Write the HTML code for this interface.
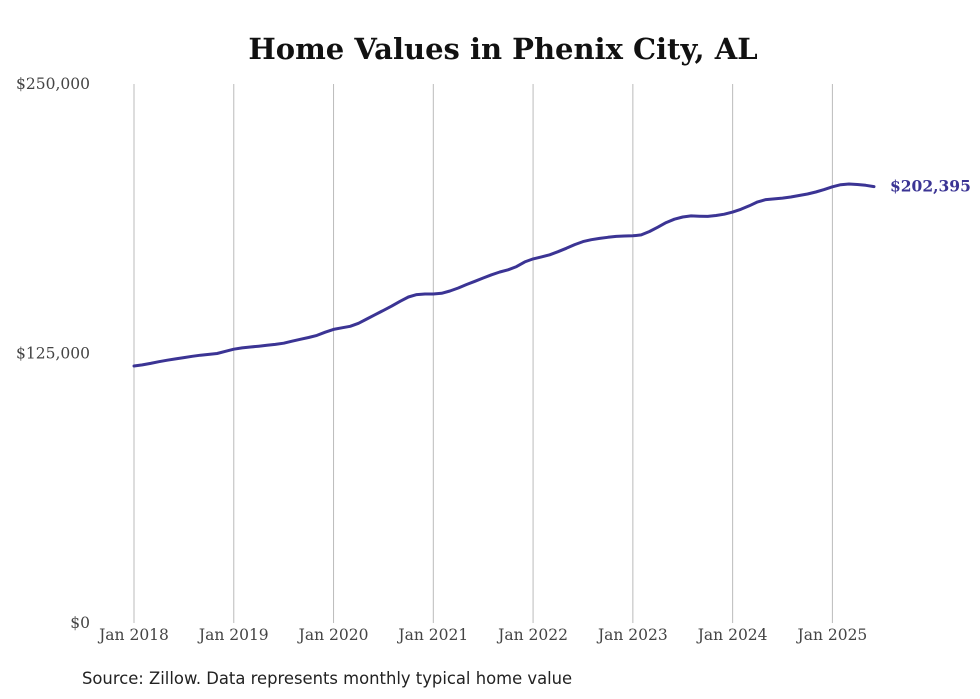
<!DOCTYPE html>
<html><head><meta charset="utf-8"><style>
body{margin:0;background:#fff;}
svg{display:block;}
</style></head><body>
<svg id="chart" width="980" height="699" xmlns="http://www.w3.org/2000/svg">
<text x="503" y="59" text-anchor="middle" font-family="DejaVu Serif, serif" font-weight="bold" font-size="29" fill="#111">Home Values in Phenix City, AL</text>
<g id="grid"></g><g id="yticks"></g><g id="xticks"></g><g id="series"></g>
<text x="82" y="684" font-family="DejaVu Sans, sans-serif" font-size="16.4" fill="#222">Source: Zillow. Data represents monthly typical home value</text>
</svg>
<script>
const xLabels=["Jan 2018","Jan 2019","Jan 2020","Jan 2021","Jan 2022","Jan 2023","Jan 2024","Jan 2025"];
const yTickValues=[0,125000,250000];
const yTickLabels=["$0","$125,000","$250,000"];
const values=[
119.2,119.7,120.4,121.2,121.9,122.5,123.1,123.7,124.2,124.6,125.0,126.0,
127.0,127.6,128.0,128.4,128.8,129.2,129.8,130.7,131.6,132.4,133.4,134.9,
136.2,136.9,137.6,139.0,141.0,143.0,145.0,147.0,149.2,151.2,152.3,152.6,
152.6,152.9,154.0,155.4,157.0,158.5,160.0,161.5,162.8,163.8,165.3,167.5,
168.9,169.8,170.8,172.2,173.8,175.5,176.9,177.8,178.4,178.9,179.3,179.5,
179.6,180.0,181.6,183.6,185.7,187.3,188.3,188.8,188.7,188.6,189.0,189.6,
190.6,191.9,193.5,195.3,196.4,196.7,197.1,197.6,198.3,199.0,199.9,201.0,
202.3,203.3,203.6,203.4,203.0,202.395];
const lastLabel="$202,395";
const NS="http://www.w3.org/2000/svg";
const x=m=>134+m*(698.4/84);
const y=v=>623-v/250000*539;
function mk(t,a,p){const e=document.createElementNS(NS,t);for(const k in a)e.setAttribute(k,a[k]);p.appendChild(e);return e;}
const grid=document.getElementById('grid'),xt=document.getElementById('xticks'),yt=document.getElementById('yticks'),se=document.getElementById('series');
xLabels.forEach((l,i)=>{
 const g=mk('line',{x1:x(i*12),x2:x(i*12),y1:84,y2:623,stroke:'#bbb','stroke-width':1},grid);
 
 
 const t=mk('text',{x:x(i*12),y:640,'text-anchor':'middle','font-family':'DejaVu Serif, serif','font-size':'15.5',fill:'#444'},xt);
 t.textContent=l;
 
 
});
yTickValues.forEach((v,i)=>{
 const t=mk('text',{x:90,y:y(v)+5,'text-anchor':'end','font-family':'DejaVu Serif, serif','font-size':'15.5',fill:'#444'},yt);
 t.textContent=yTickLabels[i];
 
 
});
const d=values.map((v,i)=>(i?'L':'M')+x(i).toFixed(1)+','+y(v*(v<1000?1000:1)).toFixed(1)).join('');
const p=mk('path',{d:d,fill:'none',stroke:'#3b3494','stroke-width':3,'stroke-linejoin':'round','stroke-linecap':'round'},se);


const li=values.length-1;
const lt=mk('text',{x:x(li)+16,y:y(values[li]*1000)+5,'font-family':'DejaVu Serif, serif','font-weight':'bold','font-size':'15.5',fill:'#3b3494'},se);
lt.textContent=lastLabel;


</script>
</body></html>
